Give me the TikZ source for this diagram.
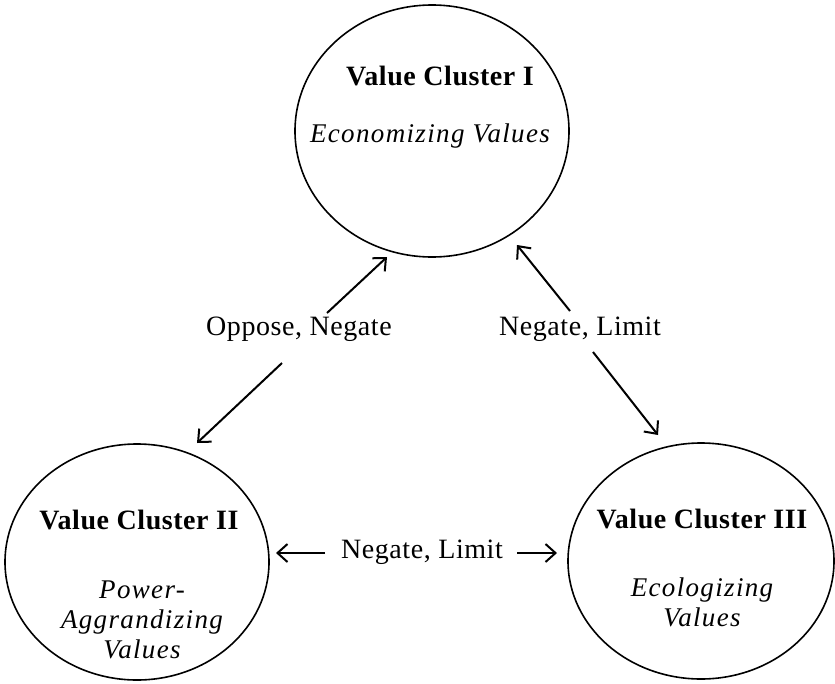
\documentclass[tikz,border=0pt]{standalone}
\usepackage{fontspec}
\setmainfont{Liberation Serif}[LetterSpace=2]
\usetikzlibrary{shapes.geometric,arrows.meta}
\tikzset{
  cluster/.style={draw,line width=1.6pt,ellipse,inner sep=0pt},
  txt/.style={inner sep=0pt,font=\fontsize{28}{31}\selectfont,align=center},
  ttl/.style={txt,font=\fontsize{28}{31}\selectfont\bfseries},
  sub/.style={txt,font=\fontsize{27}{30}\selectfont\itshape\addfontfeature{LetterSpace=5}},
  arr/.style={line width=2pt,-{Straight Barb[length=10pt,width=18pt,line width=2pt]}}
}
\begin{document}
\begin{tikzpicture}[x=1pt,y=-1pt]
\useasboundingbox (0,0) rectangle (835,683);
% circles
\node[cluster,minimum width=274pt,minimum height=252pt] (c1) at (432,131) {};
\node[cluster,minimum width=264pt,minimum height=236pt] (c2) at (137,562) {};
\node[cluster,minimum width=266pt,minimum height=236pt] (c3) at (701,561) {};
% texts
\node[ttl] (t1) at (440,76) {Value Cluster I};
\node[sub] (s1) at (430,136) {Economizing Values};
\node[ttl] (t2) at (139,520) {Value Cluster II};
\node[sub] (s2) at (142,620) {Power-\\Aggrandizing\\Values};
\node[ttl] (t3) at (702,519) {Value Cluster III};
\node[sub] (s3) at (702,602) {Ecologizing\\Values};
% labels
\node[txt] (l1) at (299,329) {Oppose, Negate};
\node[txt] (l2) at (580,329) {Negate, Limit};
\node[txt] (l3) at (422,552) {Negate, Limit};
% arrow ends
\coordinate (a1s) at (327,313); \coordinate (a1e) at (387,257);
\coordinate (a2s) at (282,363); \coordinate (a2e) at (197,443);
\coordinate (a3s) at (570,311); \coordinate (a3e) at (517,245);
\coordinate (a4s) at (593,352); \coordinate (a4e) at (658,435);
\coordinate (a5s) at (325,553); \coordinate (a5e) at (276,553);
\coordinate (a6s) at (517,553); \coordinate (a6e) at (557,553);
\draw[arr] (a1s) -- (a1e);
\draw[arr] (a2s) -- (a2e);
\draw[arr] (a3s) -- (a3e);
\draw[arr] (a4s) -- (a4e);
\draw[arr] (a5s) -- (a5e);
\draw[arr] (a6s) -- (a6e);
\end{tikzpicture}
\end{document}
